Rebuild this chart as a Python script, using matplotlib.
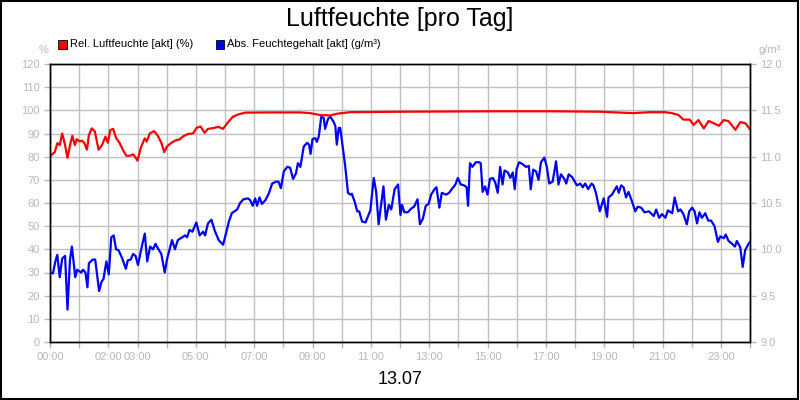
import matplotlib
matplotlib.use("Agg")
import matplotlib.pyplot as plt
from matplotlib.patches import Rectangle

plt.rcParams['font.family'] = ['Liberation Sans', 'DejaVu Sans']

# Rel. Luftfeuchte (%) - minutes since midnight / value
rh_min = [1, 10, 15, 20, 25, 30, 36, 42, 46, 51, 55, 61, 66, 71, 76, 80, 86, 92,
          100, 107, 114, 119, 124, 130, 136, 143, 150, 157, 164, 171, 175, 180,
          187, 195, 199, 205, 214, 222, 229, 235, 241, 250, 258, 267, 274, 284,
          294, 302, 310, 318, 325, 335, 346, 356, 366, 376, 387, 401, 450, 514,
          535, 555, 576, 592, 617, 720, 823, 926, 1028, 1131, 1199, 1234, 1265,
          1279, 1293, 1303, 1316, 1324, 1334, 1345, 1355, 1365, 1376, 1386, 1396,
          1410, 1420, 1430, 1440]
rh_val = [80.4, 82, 85.8, 85, 90, 86, 79.5, 85.8, 89, 85, 87.5, 86.6, 86.9, 85.8,
          83, 89.3, 92.2, 91, 83, 85, 88.6, 86, 91.5, 92, 88, 86, 82.9, 80.4,
          80.4, 81, 80, 78.3, 84, 87.9, 86.5, 90, 91, 89, 86, 82, 84.5, 86, 87,
          87.5, 88.8, 89.8, 90, 92.5, 93, 90.3, 92, 92.3, 92.9, 92, 94.8, 97.2,
          98.2, 99, 99.1, 99.1, 98.8, 98, 97.8, 98.6, 99.2, 99.4, 99.5, 99.6,
          99.6, 99.4, 98.8, 99.2, 99.2, 98.8, 98, 96, 96, 93.7, 95.8, 92.2, 95.4,
          94.5, 93.3, 95.8, 95.3, 91.6, 94.9, 94.5, 91.9]

# Abs. Feuchtegehalt (g/m³)
ah_min = [1, 6, 11, 15, 20, 25, 31, 36, 41, 45, 52, 56, 64, 68, 73, 77, 80, 88,
          93, 101, 106, 110, 116, 121, 126, 131, 136, 141, 148, 156, 160, 166,
          171, 176, 181, 188, 195, 200, 206, 212, 217, 222, 229, 236, 241, 251,
          257, 263, 272, 278, 282, 287, 293, 301, 308, 315, 319, 325, 332, 339,
          347, 356, 361, 368, 374, 385, 391, 398, 407, 412, 417, 422, 426, 431,
          436, 443, 450, 457, 465, 470, 475, 481, 488, 494, 500, 506, 510, 515,
          522, 529, 533, 536, 540, 546, 549, 553, 558, 563, 566, 572, 577, 584,
          587, 590, 594, 597, 602, 607, 613, 618, 621, 627, 632, 636, 642, 649,
          656, 659, 666, 671, 676, 682, 686, 691, 697, 702, 709, 716, 721, 724,
          729, 736, 743, 749, 756, 761, 767, 773, 779, 784, 791, 795, 801, 806,
          815, 821, 828, 834, 839, 845, 852, 857, 860, 864, 869, 876, 883, 886,
          890, 895, 900, 905, 911, 916, 921, 926, 931, 935, 942, 947, 952, 956,
          960, 965, 972, 979, 985, 989, 994, 1000, 1005, 1010, 1017, 1022, 1027,
          1034, 1041, 1046, 1051, 1058, 1062, 1067, 1074, 1084, 1091, 1096, 1101,
          1107, 1114, 1118, 1123, 1131, 1139, 1146, 1149, 1156, 1166, 1170, 1175,
          1180, 1185, 1190, 1197, 1204, 1209, 1216, 1223, 1232, 1238, 1242, 1247,
          1253, 1259, 1266, 1271, 1280, 1285, 1292, 1297, 1303, 1310, 1315, 1321,
          1326, 1331, 1336, 1341, 1348, 1354, 1360, 1367, 1374, 1379, 1386, 1390,
          1396, 1403, 1409, 1413, 1420, 1425, 1430, 1437, 1440]
ah_val = [9.75, 9.74, 9.87, 9.94, 9.70, 9.90, 9.93, 9.35, 9.88, 10.03, 9.70, 9.78,
          9.75, 9.78, 9.75, 9.59, 9.85, 9.89, 9.89, 9.55, 9.65, 9.68, 9.87, 9.73,
          10.13, 10.15, 10.0, 9.99, 9.91, 9.79, 9.88, 9.89, 9.95, 9.93, 9.83,
          10.01, 10.17, 9.87, 10.03, 10.0, 10.06, 10.01, 9.95, 9.75, 9.9, 10.1,
          10.0, 10.1, 10.13, 10.15, 10.13, 10.21, 10.19, 10.29, 10.15, 10.19,
          10.15, 10.28, 10.32, 10.2, 10.1, 10.05, 10.15, 10.30, 10.39, 10.43,
          10.50, 10.54, 10.55, 10.53, 10.47, 10.55, 10.47, 10.56, 10.49, 10.53,
          10.6, 10.71, 10.73, 10.73, 10.66, 10.84, 10.89, 10.88, 10.76, 10.82,
          10.93, 10.89, 11.11, 11.15, 11.13, 11.03, 11.19, 11.20, 11.16, 11.22,
          11.43, 11.42, 11.30, 11.41, 11.43, 11.37, 11.33, 11.13, 11.31, 11.31,
          11.11, 10.91, 10.61, 10.59, 10.6, 10.51, 10.41, 10.41, 10.30, 10.29,
          10.38, 10.42, 10.77, 10.62, 10.27, 10.52, 10.68, 10.32, 10.48, 10.43,
          10.65, 10.70, 10.37, 10.48, 10.40, 10.4, 10.44, 10.46, 10.54, 10.27,
          10.33, 10.47, 10.49, 10.59, 10.65, 10.67, 10.45, 10.61, 10.59, 10.61,
          10.66, 10.70, 10.77, 10.7, 10.69, 10.67, 10.47, 10.93, 10.89, 10.94,
          10.94, 10.93, 10.62, 10.68, 10.59, 10.76, 10.77, 10.72, 10.61, 10.89,
          10.70, 10.85, 10.83, 10.77, 10.83, 10.65, 10.87, 10.94, 10.92, 10.89,
          10.9, 10.65, 10.86, 10.84, 10.75, 10.94, 10.99, 10.89, 10.71, 10.73,
          10.95, 10.70, 10.81, 10.76, 10.71, 10.81, 10.78, 10.69, 10.71, 10.67,
          10.71, 10.65, 10.71, 10.69, 10.61, 10.41, 10.55, 10.35, 10.56, 10.59,
          10.68, 10.61, 10.69, 10.67, 10.56, 10.62, 10.52, 10.41, 10.46, 10.45,
          10.40, 10.41, 10.38, 10.36, 10.43, 10.34, 10.38, 10.34, 10.42, 10.39,
          10.56, 10.41, 10.43, 10.38, 10.27, 10.41, 10.45, 10.41, 10.28, 10.40,
          10.34, 10.39, 10.31, 10.31, 10.25, 10.08, 10.14, 10.12, 10.16, 10.09,
          10.06, 10.03, 10.09, 10.02, 9.81, 9.99, 10.06, 10.08]

hour_ticks = list(range(0, 1441, 60))
hour_labels = ['00:00', '', '02:00', '03:00', '', '05:00', '', '07:00', '', '09:00',
               '', '11:00', '', '13:00', '', '15:00', '', '17:00', '', '19:00', '',
               '21:00', '', '23:00', '']

grey = '#b8b8b8'

fig = plt.figure(figsize=(8, 4), dpi=100)
ax = fig.add_axes([0.0625, 0.145, 0.875, 0.695])
ax2 = ax.twinx()

ax.set_xlim(0, 1440)
ax.set_ylim(0, 120)
ax2.set_ylim(9, 12)
ax.set_xticks(hour_ticks)
ax.set_xticklabels(hour_labels)
ax.set_yticks(range(0, 121, 10))
ax2.set_yticks([9 + 0.5 * i for i in range(7)])
ax2.set_yticklabels(['%.1f' % (9 + 0.5 * i) for i in range(7)])

ax.grid(True, color='#c0c0c0', linewidth=1)
ax.set_axisbelow(True)

for a in (ax, ax2):
    for s in a.spines.values():
        s.set_color('black')
        s.set_linewidth(1)
    a.tick_params(colors=grey, labelsize=8, length=4, width=1)

ax2.plot(ah_min, ah_val, color='#0000ff', linewidth=1.6)
# red on top, drawn in the left axis' units
ax2.plot(rh_min, rh_val, color='#ff0000', linewidth=1.6, transform=ax.transData)
ax2.set_ylim(9, 12)

fig.text(0.5, 0.952, 'Luftfeuchte [pro Tag]', ha='center', va='center', fontsize=18)
fig.text(0.5, 0.05, '13.07', ha='center', va='center', fontsize=13)
fig.text(0.054, 0.876, '%', ha='center', va='center', fontsize=8, color=grey)
fig.text(0.962, 0.876, 'g/m³', ha='center', va='center', fontsize=8, color=grey)

# legend
fig.patches.append(Rectangle((0.0725, 0.878), 0.011, 0.022, transform=fig.transFigure,
                             facecolor='#ff0000', edgecolor='black', linewidth=0.6))
fig.text(0.087, 0.889, 'Rel. Luftfeuchte [akt] (%)', va='center', fontsize=8)
fig.patches.append(Rectangle((0.2695, 0.878), 0.011, 0.022, transform=fig.transFigure,
                             facecolor='#0000ff', edgecolor='black', linewidth=0.6))
fig.text(0.284, 0.889, 'Abs. Feuchtegehalt [akt] (g/m³)', va='center', fontsize=8)

fig.patches.append(Rectangle((0.001, 0.002), 0.997, 0.995, transform=fig.transFigure,
                             fill=False, edgecolor='black', linewidth=1.5))

fig.savefig('out.png', dpi=100)
